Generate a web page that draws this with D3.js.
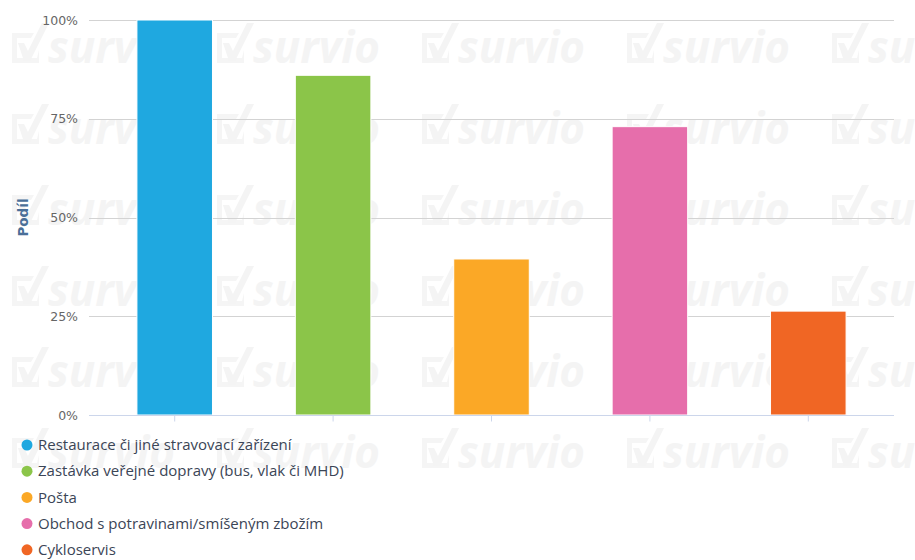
<!DOCTYPE html>
<html>
<head>
<meta charset="utf-8">
<script src="https://cdn.jsdelivr.net/npm/d3@7/dist/d3.min.js"></script>
<style>
  html, body { margin: 0; padding: 0; background: #ffffff; }
  svg { display: block; font-family: "Open Sans", "DejaVu Sans", sans-serif; }
</style>
</head>
<body>
<svg id="chart" width="915" height="560"></svg>
<script>
// Answer categories and their share of respondents (%)
const categories = [
  "Restaurace či jiné stravovací zařízení",
  "Zastávka veřejné dopravy (bus, vlak či MHD)",
  "Pošta",
  "Obchod s potravinami/smíšeným zbožím",
  "Cykloservis"
];
const shares = [100, 86, 39.5, 73, 26.3];
const colors = ["#1fa8e0", "#8bc549", "#fba826", "#e66eab", "#f06624"];
const yTicks = [0, 25, 50, 75, 100];
const yTitle = "Podíl";

const svg = d3.select("#chart");

// Plot geometry
const plot = { left: 89, right: 894, top: 20, bottom: 415 };

const x = d3.scaleBand()
  .domain(categories)
  .range([95.5, 887.5]);
const barW = x.bandwidth() * 0.477;

const y = d3.scaleLinear()
  .domain([0, 100])
  .range([plot.bottom, plot.top]);

// Background watermark tiles
const wm = svg.append("g").attr("class", "watermark");
const wmCols = d3.range(5).map(i => 10 + i * 205);
const wmRows = d3.range(6).map(i => 63 + i * 81);
wmRows.forEach(ry => {
  wmCols.forEach(cx => {
    const g = wm.append("g").attr("transform", `translate(${cx},${ry})`);
    // check-box glyph
    g.append("path")
      .attr("d", "M2,-30 L24,-30 L21,-25 L7,-25 L7,-5 L27,-5 L29,-13 L29,0 L2,0 Z")
      .attr("fill", "#f5f5f5");
    g.append("path")
      .attr("d", "M8,-20 L14,-20 L18,-12 L32,-40 L39,-40 L20,-2 L14,-2 Z")
      .attr("fill", "#f4f4f4");
    g.append("text")
      .attr("x", 38)
      .attr("y", 0)
      .attr("font-size", 44)
      .attr("font-weight", "bold")
      .attr("font-style", "italic")
      .attr("textLength", 127)
      .attr("lengthAdjust", "spacingAndGlyphs")
      .attr("fill", "#f4f4f4")
      .text("survio");
  });
});

// Horizontal grid lines
svg.append("g")
  .selectAll("line")
  .data(yTicks.filter(d => d > 0))
  .join("line")
  .attr("x1", plot.left)
  .attr("x2", plot.right)
  .attr("y1", d => Math.round(y(d)) + 0.5)
  .attr("y2", d => Math.round(y(d)) + 0.5)
  .attr("stroke", "#d3d3d3")
  .attr("stroke-width", 1);

// Y axis labels
const yAxis = d3.axisLeft(y)
  .tickValues(yTicks)
  .tickFormat(d => d + "%")
  .tickSize(0)
  .tickPadding(0);
const yg = svg.append("g")
  .attr("transform", `translate(78,0)`)
  .call(yAxis);
yg.select(".domain").remove();
yg.selectAll("text")
  .attr("font-family", "\"DejaVu Sans\", sans-serif")
  .attr("font-size", 12.5)
  .attr("fill", "#666666");

// Y axis title
svg.append("text")
  .attr("transform", `translate(28,${(plot.top + plot.bottom) / 2}) rotate(-90)`)
  .attr("text-anchor", "middle")
  .attr("font-family", "\"DejaVu Sans\", sans-serif")
  .attr("font-size", 13.5)
  .attr("font-weight", "bold")
  .attr("fill", "#4a6f98")
  .text(yTitle);

// Bars
svg.append("g")
  .selectAll("rect")
  .data(categories)
  .join("rect")
  .attr("x", d => x(d) + (x.bandwidth() - barW) / 2)
  .attr("y", (d, i) => y(shares[i]))
  .attr("width", barW)
  .attr("height", (d, i) => y(0) - y(shares[i]))
  .attr("fill", (d, i) => colors[i])
  .attr("stroke", "#ffffff")
  .attr("stroke-width", 1);

// X axis line and ticks
const xAxis = d3.axisBottom(x).tickSize(6).tickFormat("");
const xg = svg.append("g")
  .attr("transform", `translate(0,${plot.bottom + 0.5})`)
  .call(xAxis);
xg.select(".domain")
  .attr("d", `M${plot.left},0H${plot.right}`)
  .attr("stroke", "#ccd6eb");
xg.selectAll(".tick line").attr("stroke", "#ccd6eb");

// Legend
const legend = svg.append("g")
  .selectAll("g")
  .data(categories)
  .join("g")
  .attr("transform", (d, i) => `translate(27,${445 + i * 26.2})`);
legend.append("circle")
  .attr("r", 5.5)
  .attr("fill", (d, i) => colors[i]);
legend.append("text")
  .attr("x", 11)
  .attr("dy", "0.35em")
  .attr("font-size", 15)
  .attr("fill", "#3b4556")
  .text(d => d);
</script>
</body>
</html>
